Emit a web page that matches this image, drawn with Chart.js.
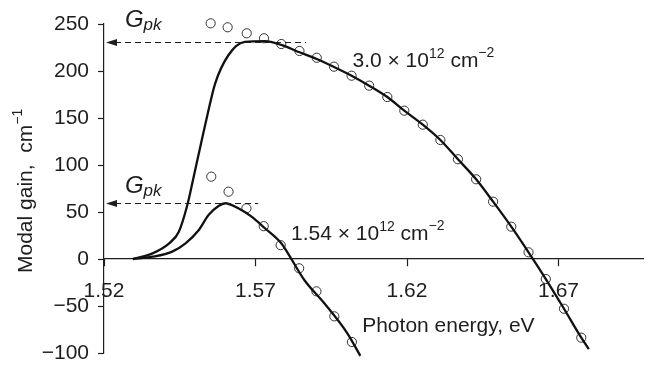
<!DOCTYPE html>
<html>
<head>
<meta charset="utf-8">
<script src="https://cdn.jsdelivr.net/npm/chart.js@4.4.1/dist/chart.umd.min.js"></script>
<style>
  html, body { margin: 0; padding: 0; background: #fff; }
</style>
</head>
<body>
<canvas id="gainChart" width="649" height="365"></canvas>
<script>
const FONT = '"Liberation Sans", Arial, sans-serif';
const INK = "#1e1e1e";

// axis ticks
const xTicks = [1.52, 1.57, 1.62, 1.67];
const yMin = -100;
const yMax = 250;
const yStep = 50;

// measured points (circles), 3.0e12 cm^-2
const pts30X = [1.5552, 1.5608, 1.5671, 1.5728, 1.5785, 1.5845, 1.5902, 1.5959, 1.6017, 1.6075, 1.6135,
  1.6191, 1.6252, 1.6310, 1.6368, 1.6428, 1.6484, 1.6544, 1.6601, 1.6658, 1.6718, 1.6775];
const pts30Y = [250.7, 246.5, 240.1, 234.8, 228.7, 221.3, 214.1, 204.6, 195, 184.4, 172.3,
  157.8, 142.9, 126.6, 106.1, 84.8, 61, 34.4, 7.1, -21.3, -52.9, -83.7];

// measured points (circles), 1.54e12 cm^-2
const pts154X = [1.5554, 1.5611, 1.5670, 1.5727, 1.5783, 1.5844, 1.5901, 1.5960, 1.6018];
const pts154Y = [87.6, 71.6, 53.9, 34.9, 14.7, -9.9, -34.4, -61, -88.3];

// calculated gain curves
const curve30X = [1.5295, 1.5360, 1.5415, 1.5447, 1.5475, 1.5496, 1.5513, 1.5540, 1.5567, 1.5611, 1.5665,
  1.5731, 1.5785, 1.5845, 1.5902, 1.5959, 1.6017, 1.6075, 1.6135, 1.6191, 1.6252, 1.6310, 1.6368,
  1.6428, 1.6484, 1.6544, 1.6601, 1.6658, 1.6718, 1.6775, 1.6800];
const curve30Y = [0, 6, 16.7, 29, 57.4, 87.6, 112.4, 151.4, 186.9, 217, 230.9,
  231.7, 227.7, 219.9, 212.8, 204.3, 195, 184.4, 172.3, 157.8, 142.9, 126.6, 106.1,
  84.8, 61, 34.4, 7.1, -21.3, -52.9, -83.7, -96];

const curve154X = [1.5295, 1.5360, 1.5425, 1.5469, 1.5513, 1.5545, 1.5578, 1.5600, 1.5643, 1.5687,
  1.5731, 1.5785, 1.5807, 1.5861, 1.5927, 1.6003, 1.6046];
const curve154Y = [0, 2.4, 7.8, 16.7, 30.9, 46.8, 56.4, 59.3, 53.9, 45,
  32.7, 16.7, 6, -22.3, -47.1, -79, -103];

// peak gain markers: value and where the dashed line stops
const gpk30 = 231.2;
const gpk30End = 1.5867;
const gpk154 = 59.3;
const gpk154End = 1.5709;

function toXY(xs, ys) {
  return xs.map((x, i) => ({ x: x, y: ys[i] }));
}

function minus(v) {
  return v < 0 ? "\u2212" + Math.abs(v) : String(v);
}

// draws a run of text pieces, each {t, size, italic, dy}
function drawRich(ctx, x, y, parts) {
  ctx.textBaseline = "alphabetic";
  ctx.textAlign = "left";
  parts.forEach((p) => {
    ctx.font = (p.italic ? "italic " : "") + p.size + "px " + FONT;
    ctx.fillText(p.t, x, y + (p.dy || 0));
    x += ctx.measureText(p.t).width;
  });
}

function gpkArrow(ctx, chart, value, endX) {
  const xs = chart.scales.x;
  const ys = chart.scales.y;
  const py = Math.round(ys.getPixelForValue(value)) + 0.5;
  const tip = chart.chartArea.left + 2;
  ctx.save();
  ctx.strokeStyle = INK;
  ctx.lineWidth = 1.1;
  ctx.setLineDash([6, 4]);
  ctx.beginPath();
  ctx.moveTo(tip + 9, py);
  ctx.lineTo(xs.getPixelForValue(endX), py);
  ctx.stroke();
  ctx.setLineDash([]);
  ctx.fillStyle = INK;
  ctx.beginPath();
  ctx.moveTo(tip, py);
  ctx.lineTo(tip + 11, py - 3.5);
  ctx.lineTo(tip + 11, py + 3.5);
  ctx.closePath();
  ctx.fill();
  ctx.restore();
}

const annotations = {
  id: "annotations",
  afterDatasetsDraw(chart) {
    const ctx = chart.ctx;
    const xs = chart.scales.x;
    const ys = chart.scales.y;
    const px = (v) => xs.getPixelForValue(v);
    const py = (v) => ys.getPixelForValue(v);

    gpkArrow(ctx, chart, gpk30, gpk30End);
    gpkArrow(ctx, chart, gpk154, gpk154End);

    ctx.save();
    ctx.fillStyle = INK;
    const gpk = [
      { t: "G", size: 24, italic: true },
      { t: "pk", size: 17, italic: true, dy: 3 },
    ];
    drawRich(ctx, px(1.5269), py(246.3), gpk);
    drawRich(ctx, px(1.5269), py(70.7), gpk);

    drawRich(ctx, px(1.602), py(204.3), [
      { t: "3.0 \u00d7 10", size: 21 },
      { t: "12", size: 14, dy: -9 },
      { t: " cm", size: 21 },
      { t: "\u22122", size: 14, dy: -10 },
    ]);
    drawRich(ctx, px(1.5817), py(20.2), [
      { t: "1.54 \u00d7 10", size: 21 },
      { t: "12", size: 14, dy: -9 },
      { t: " cm", size: 21 },
      { t: "\u22122", size: 14, dy: -10 },
    ]);

    drawRich(ctx, px(1.6052), py(-77.7), [{ t: "Photon energy, eV", size: 21 }]);

    // y axis title, rotated
    ctx.translate(32, 273);
    ctx.rotate(-Math.PI / 2);
    drawRich(ctx, 0, 0, [
      { t: "Modal gain,  cm", size: 21 },
      { t: "\u22121", size: 14, dy: -10 },
    ]);
    ctx.restore();
  },
};

function initChart() {
  const ctx = document.getElementById("gainChart").getContext("2d");
  new Chart(ctx, {
    type: "scatter",
    data: {
      datasets: [
        {
          data: toXY(curve30X, curve30Y),
          showLine: true,
          borderColor: "#111",
          borderWidth: 2.3,
          pointRadius: 0,
          cubicInterpolationMode: "monotone",
          clip: false,
        },
        {
          data: toXY(curve154X, curve154Y),
          showLine: true,
          borderColor: "#111",
          borderWidth: 2.3,
          pointRadius: 0,
          cubicInterpolationMode: "monotone",
          clip: false,
        },
        {
          data: toXY(pts30X, pts30Y),
          pointRadius: 4.6,
          pointBorderWidth: 1,
          pointBorderColor: "#333",
          pointBackgroundColor: "rgba(0,0,0,0)",
          clip: false,
        },
        {
          data: toXY(pts154X, pts154Y),
          pointRadius: 4.6,
          pointBorderWidth: 1,
          pointBorderColor: "#333",
          pointBackgroundColor: "rgba(0,0,0,0)",
          clip: false,
        },
      ],
    },
    options: {
      responsive: false,
      animation: false,
      layout: { padding: { top: 24, right: 0, bottom: 12, left: 0 } },
      plugins: { legend: { display: false }, tooltip: { enabled: false } },
      scales: {
        x: {
          type: "linear",
          min: 1.52,
          max: 1.698,
          position: { y: 0 },
          afterBuildTicks: (s) => {
            s.ticks = xTicks.map((v) => ({ value: v }));
          },
          afterFit: (s) => {
            s.height = 0;
            s.paddingLeft = 0;
            s.paddingRight = 0;
          },
          grid: { drawOnChartArea: false, tickLength: 7, tickColor: INK, tickWidth: 1.2 },
          border: { color: INK, width: 1.2 },
          ticks: {
            color: INK,
            font: { family: FONT, size: 21 },
            padding: 13,
            maxRotation: 0,
            autoSkip: false,
            callback: (v) => v.toFixed(2),
          },
        },
        y: {
          type: "linear",
          min: yMin,
          max: yMax,
          afterFit: (s) => {
            s.width = 104;
            s.paddingTop = 0;
            s.paddingBottom = 0;
          },
          grid: { drawOnChartArea: false, tickLength: 6, tickColor: INK, tickWidth: 1.2 },
          border: { color: INK, width: 1.2 },
          ticks: {
            stepSize: yStep,
            color: INK,
            font: { family: FONT, size: 21 },
            padding: 9,
            callback: (v) => minus(v),
          },
        },
      },
    },
    plugins: [annotations],
  });
}

document.addEventListener("DOMContentLoaded", initChart);
</script>
</body>
</html>
